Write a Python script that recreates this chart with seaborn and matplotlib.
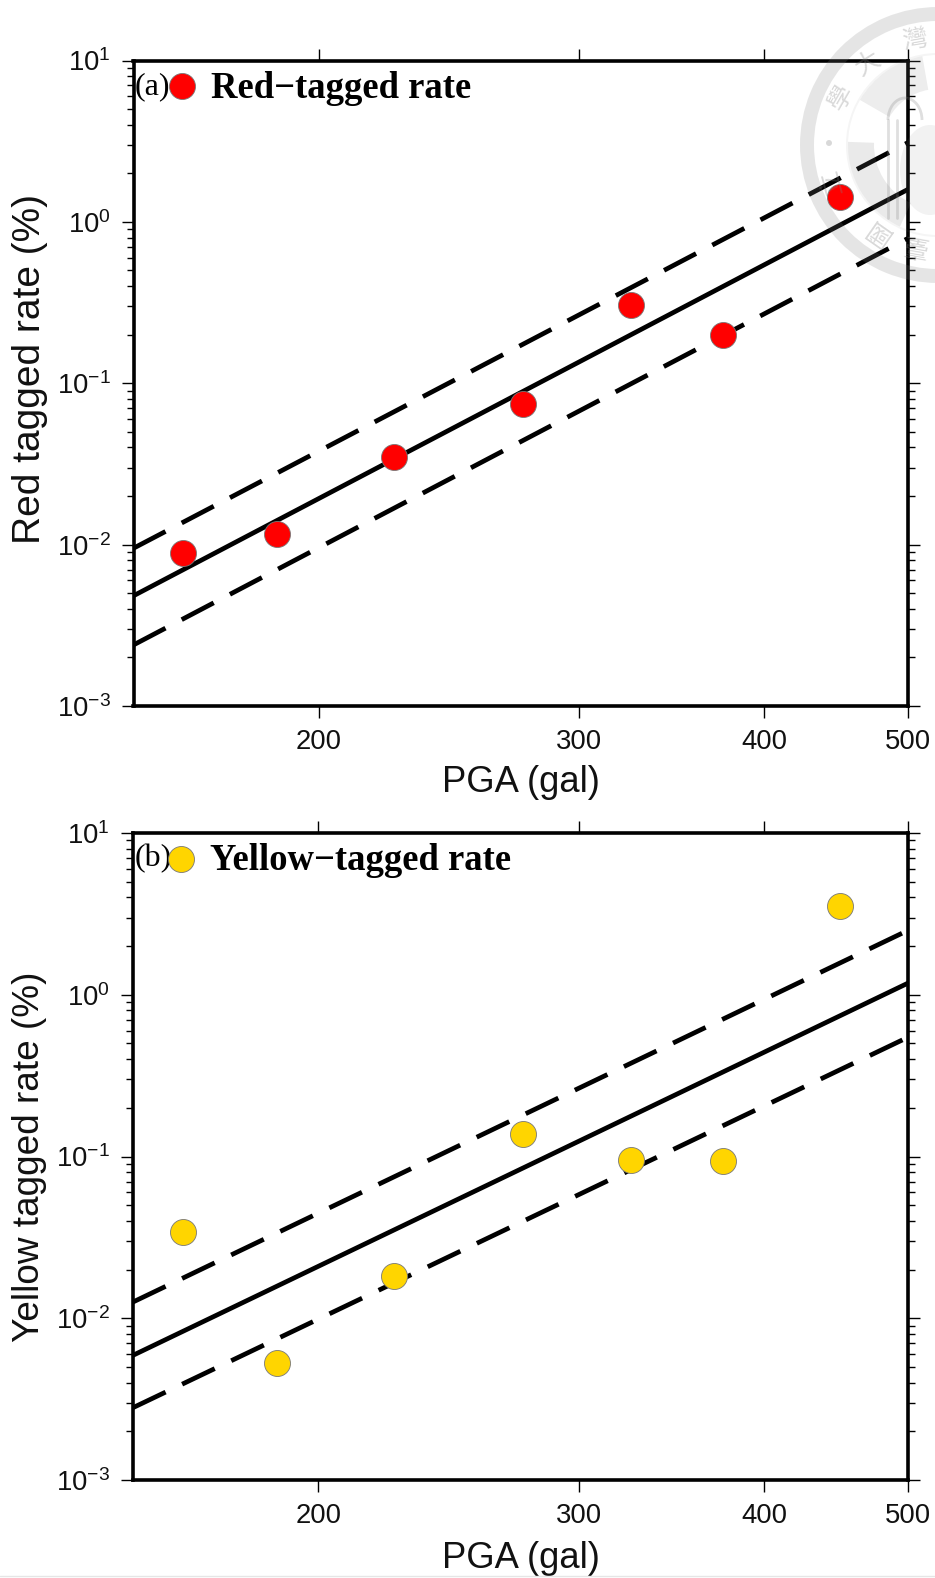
import numpy as np
import pandas as pd
import matplotlib
matplotlib.use('Agg')
import matplotlib.pyplot as plt
import seaborn as sns
from matplotlib.lines import Line2D
from matplotlib.patches import Wedge, Ellipse, Arc
from matplotlib.ticker import FixedLocator, FixedFormatter, LogLocator, LogFormatterMathtext, NullLocator

W, H = 935, 1578

# PGA of the bins
pga = [162, 187.5, 225, 275, 325, 375, 450]
red_rate = [0.0089, 0.0116, 0.035, 0.0748, 0.305, 0.199, 1.42]
yellow_rate = [0.0339, 0.00527, 0.0183, 0.138, 0.095, 0.0938, 3.56]

# fit lines, read at both ends of the axis
line_x = [150, 500]
red_fit = [0.00482, 1.59]
red_upper = [0.0095, 3.1]
red_lower = [0.00239, 0.79]
yellow_fit = [0.0059, 1.18]
yellow_upper = [0.0126, 2.5]
yellow_lower = [0.0028, 0.546]

x_ticks = [200, 300, 400, 500]
x_tick_labels = ['200', '300', '400', '500']

sns.set_theme(style='ticks')
plt.rcParams['font.family'] = ['Liberation Sans', 'DejaVu Sans']
plt.rcParams['mathtext.fontset'] = 'custom'
plt.rcParams['mathtext.rm'] = 'Liberation Sans'
plt.rcParams['mathtext.default'] = 'regular'

fig = plt.figure(figsize=(W / 100, H / 100), dpi=100, facecolor='white')


def make_axes(left, top, right, bottom):
    return fig.add_axes([left / W, 1 - bottom / H, (right - left) / W, (bottom - top) / H])


def draw_panel(ax, rate, fit, upper, lower, color, tag, name, ylabel, ylabel_size, ylabel_y, xlabel_y):
    points = pd.DataFrame({'pga': pga, 'rate': rate})
    for vals, style in [(fit, (None, None)), (upper, (7.65, 3.88)), (lower, (7.65, 3.88))]:
        lines = pd.DataFrame({'pga': line_x, 'rate': vals})
        sns.lineplot(data=lines, x='pga', y='rate', ax=ax, color='black', lw=3.4,
                     estimator=None, sort=False, zorder=2)
        if style[0] is not None:
            ax.lines[-1].set_dashes(style)
            ax.lines[-1].set_dash_capstyle('butt')
    sns.scatterplot(data=points, x='pga', y='rate', ax=ax, color=color, s=350,
                    edgecolor='#777777', linewidth=0.6, zorder=3, clip_on=False)

    ax.set_xscale('log')
    ax.set_yscale('log')
    ax.set_xlim(150, 500)
    ax.set_ylim(1e-3, 10)
    ax.xaxis.set_major_locator(FixedLocator(x_ticks))
    ax.xaxis.set_major_formatter(FixedFormatter(x_tick_labels))
    ax.xaxis.set_minor_locator(NullLocator())
    ax.yaxis.set_major_locator(LogLocator(base=10, numticks=10))
    ax.yaxis.set_major_formatter(LogFormatterMathtext())
    ax.yaxis.set_minor_locator(LogLocator(base=10, subs=np.arange(2, 10), numticks=20))
    ax.tick_params(axis='both', which='major', length=8.5, width=1.0, color='black',
                   labelsize=19.8, pad=8, top=True, right=True, labelcolor='#111111')
    ax.tick_params(axis='y', which='minor', length=5, width=1.0, color='black',
                   left=True, right=True)
    for sp in ax.spines.values():
        sp.set_visible(True)
        sp.set_linewidth(2.6)
        sp.set_color('black')

    ax.set_xlabel('PGA (gal)', fontsize=26.2, color='#111111')
    ax.set_ylabel(ylabel, fontsize=ylabel_size, color='#111111')
    ax.xaxis.set_label_coords(0.5, xlabel_y)
    ax.yaxis.set_label_coords(-0.133, ylabel_y)
    ax.xaxis.label.set_verticalalignment('center')
    ax.yaxis.label.set_verticalalignment('center')

    ax.text(0.002, 0.96, tag, transform=ax.transAxes, family='Liberation Serif',
            fontsize=23, color='black', ha='left', va='center')
    ax.scatter([0.0625], [0.96], transform=ax.transAxes, s=350, color=color,
               edgecolor='#777777', linewidth=0.6, zorder=4)
    ax.text(0.1, 0.957, name, transform=ax.transAxes, family='Liberation Serif',
            weight='bold', fontsize=26.4, color='black', ha='left', va='center')


ax_a = make_axes(133.5, 60.5, 908, 706)
draw_panel(ax_a, red_rate, red_fit, red_upper, red_lower, '#ff0000', '(a)',
           'Red\u2212tagged rate', 'Red tagged rate (%)', 28, 0.522, -0.118)
ax_b = make_axes(133, 833, 908, 1480)
draw_panel(ax_b, yellow_rate, yellow_fit, yellow_upper, yellow_lower, '#ffd500', '(b)',
           'Yellow\u2212tagged rate', 'Yellow tagged rate (%)', 26.6, 0.5, -0.122)

# university seal watermark over the top right corner
cx, cy = 938, 145


def px(x, y):
    return (x, H - y)


seal = dict(transform=None, zorder=6, linewidth=0)
fig.add_artist(Wedge(px(cx, cy), 138, 0, 360, width=14, facecolor='#808080', alpha=0.2, **seal))
fig.add_artist(Wedge(px(cx, cy), 92, 0, 360, width=2, facecolor='#808080', alpha=0.08, **seal))
# dark parts of the emblem inside the inner disc
fig.add_artist(Wedge(px(cx, cy), 90, 100, 150, width=34, facecolor='#808080', alpha=0.14, **seal))
fig.add_artist(Wedge(px(cx, cy), 90, 178, 245, width=26, facecolor='#808080', alpha=0.16, **seal))
fig.add_artist(Ellipse(px(930, 170), 60, 90, facecolor='#808080', alpha=0.1, **seal))
for ax_x in [888, 897]:
    fig.add_artist(Line2D([ax_x, ax_x], [H - 120, H - 218], transform=None, color='#808080',
                          alpha=0.25, lw=2, zorder=6))
fig.add_artist(Arc(px(905, 120), 34, 44, theta1=0, theta2=180, transform=None, color='#808080',
                   alpha=0.25, lw=2, zorder=6))
fig.add_artist(Ellipse(px(829, 143), 6, 6, facecolor='#808080', alpha=0.3, **seal))
for ch, sx, sy, rot in [('\u7063', 915, 40, 10), ('\u5927', 868, 63, 32), ('\u5b78', 841, 98, 60),
                        ('\u7acb', 832, 182, 105), ('\u570b', 878, 231, 145), ('\u81fa', 915, 245, 170)]:
    fig.text(sx / W, 1 - sy / H, ch, family=['Noto Sans CJK TC', 'DejaVu Sans'], fontsize=18,
             color='#808080', alpha=0.3, rotation=rot, ha='center', va='center', zorder=6)

fig.add_artist(Line2D([0, 1], [1 - 1575.5 / H] * 2, transform=fig.transFigure, color='#e6e6e6', lw=1))

fig.savefig('out.png', dpi=100, facecolor='white')
